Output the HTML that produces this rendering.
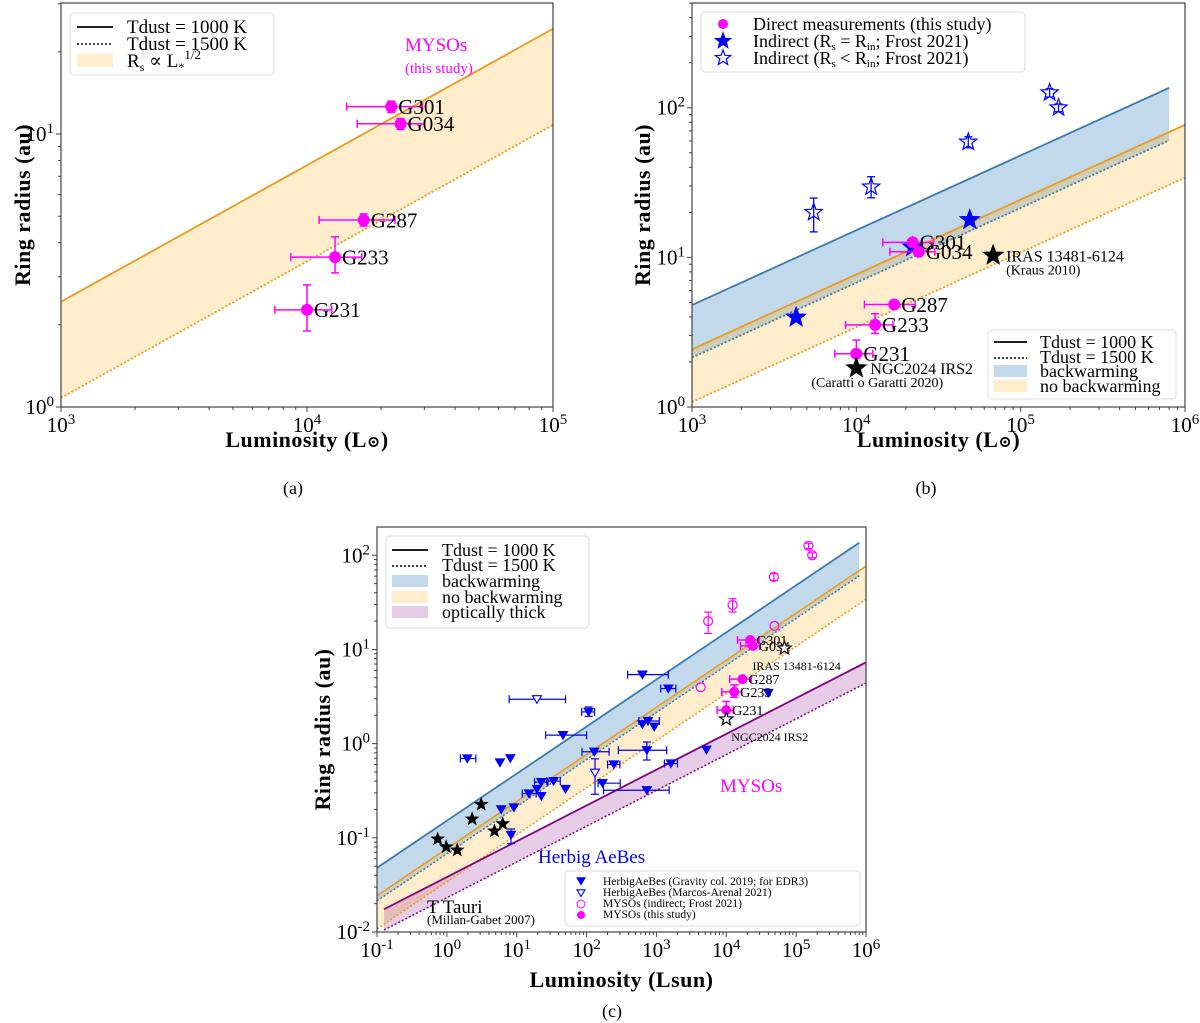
<!DOCTYPE html>
<html><head><meta charset="utf-8"><style>
html,body{margin:0;padding:0;background:#fff;}
svg{display:block;font-family:"Liberation Serif","DejaVu Serif",serif;}
</style></head><body>
<svg id="fig" width="1200" height="1023" viewBox="0 0 1200 1023" xmlns="http://www.w3.org/2000/svg"></svg>
<script>
// ---------- data ----------
const mysoNames=['G301','G034','G287','G233','G231'];
const mysoL=[2.2e4,2.4e4,1.7e4,1.3e4,1.0e4];
const mysoR=[12.6,10.9,4.84,3.54,2.27];
const mysoLlo=[1.45e4,1.6e4,1.12e4,8.6e3,7.4e3];
const mysoLhi=[2.95e4,3.0e4,2.28e4,1.67e4,1.26e4];
const mysoRlo=[12.0,10.4,4.6,3.1,1.9];
const mysoRhi=[13.2,11.4,5.1,4.2,2.8];
const frostFilledL=[4.3e3,4.9e4,2.2e4];
const frostFilledR=[3.97,17.8,11.7];
const frostOpenL=[5.5e3,1.23e4,4.8e4,1.5e5,1.7e5];
const frostOpenR=[20,29.6,59,126,100];
const frostOpenRlo=[14.8,25,54,118,94];
const frostOpenRhi=[24.9,34.6,64,134,106];
const otherNames=['IRAS 13481-6124','NGC2024 IRS2'];
const otherRefs=['(Kraus 2010)','(Caratti o Garatti 2020)'];
const otherL=[6.8e4,1.0e4];
const otherR=[10.3,1.82];
const ttauL=[0.74,0.98,1.41,2.3,3.1,4.8,6.3];
const ttauR=[0.097,0.080,0.074,0.158,0.226,0.118,0.141];
const haeL=[1.96,5.75,8.1,6.0,9.1,8.3,15,22.5,22.5,19.5,33.7,50,46,107,129,169,246,630,630,755,930,730,730,1480,1610,5200,4.0e4];
const haeR=[0.695,0.63,0.70,0.20,0.21,0.107,0.295,0.39,0.277,0.33,0.40,0.33,1.23,2.17,0.82,0.38,0.60,5.4,1.6,1.74,1.51,0.85,0.32,3.84,0.615,0.86,3.45];
const haeLlo=[1.56,null,null,null,null,null,12,18,null,null,27,null,26,85,86,146,200,387,null,560,null,285,175,1150,1300,null,null];
const haeLhi=[2.6,null,null,null,null,null,19,28,null,null,42,null,100,130,210,303,300,1480,null,1100,null,1400,1520,1900,2000,null,null];
const haeRlo=[null,null,null,null,null,0.087,null,null,null,null,null,null,null,1.95,null,null,null,null,null,null,null,0.67,null,null,null,null,null];
const haeRhi=[null,null,null,null,null,0.124,null,null,null,null,null,null,null,2.45,null,null,null,null,null,null,null,1.04,null,null,null,null,null];
const maL=[19.5,132];
const maR=[2.96,0.49];
const maLlo=[7.8,null];
const maLhi=[50,null];
const maRlo=[null,0.29];
const maRhi=[null,0.69];
const bw1000=4.8, bw1500=2.14, nb1000=2.43, nb1500=1.08;
const thickAt1e6=[7.3,4.4], thickSlope=0.38;

const NS='http://www.w3.org/2000/svg';
const fig=document.getElementById('fig');
function el(tag,attrs,parent){const e=document.createElementNS(NS,tag);for(const k in attrs)e.setAttribute(k,attrs[k]);(parent||fig).appendChild(e);return e;}
function lg(v){return Math.log10(v);}

function makePanel(id,c){
  const g=el('g',{});
  
  
  c.g=g;
  c.X=L=>c.x0+(lg(L)-c.lx[0])/(c.lx[1]-c.lx[0])*(c.x1-c.x0);
  c.Y=R=>c.y1-(lg(R)-c.ly[0])/(c.ly[1]-c.ly[0])*(c.y1-c.y0);
  const cp=el('clipPath',{id:'clip'+id},g);
  el('rect',{x:c.x0,y:c.y0,width:c.x1-c.x0,height:c.y1-c.y0},cp);
  c.plot=el('g',{'clip-path':'url(#clip'+id+')'},g);
  return c;
}
function frame(c,id){
  const f=el('rect',{x:c.x0,y:c.y0,width:c.x1-c.x0,height:c.y1-c.y0,fill:'none',stroke:'#444','stroke-width':1.2},c.g);
  
  
  for(let d=Math.floor(c.lx[0]);d<=c.lx[1];d++){
    for(let k=1;k<10;k++){const v=d+lg(k);if(v<c.lx[0]-1e-9||v>c.lx[1]+1e-9)continue;
      const x=c.X(Math.pow(10,v));const len=k==1?5:3;
      el('line',{x1:x,x2:x,y1:c.y1,y2:c.y1+len,stroke:'#444'},c.g);}
    if(d>=c.lx[0]-1e-9){
      const t=el('text',{x:c.X(Math.pow(10,d)),y:c.y1+25,'text-anchor':'middle','font-size':21},c.g);
      
      
      t.innerHTML='10<tspan dy="-8" font-size="15">'+d+'</tspan>';}
  }
  for(let d=Math.floor(c.ly[0]);d<=c.ly[1];d++){
    for(let k=1;k<10;k++){const v=d+lg(k);if(v<c.ly[0]-1e-9||v>c.ly[1]+1e-9)continue;
      const y=c.Y(Math.pow(10,v));const len=k==1?5:3;
      el('line',{x1:c.x0-len,x2:c.x0,y1:y,y2:y,stroke:'#444'},c.g);}
    const t=el('text',{x:c.x0-7,y:c.Y(Math.pow(10,d))+7,'text-anchor':'end','font-size':21},c.g);
    
    
    t.innerHTML='10<tspan dy="-8" font-size="15">'+d+'</tspan>';
  }
}
function axisTitles(c,id,xt,yx,xlabel,fs){
  const xl=el('text',{x:(c.x0+c.x1)/2,y:c.y1+xt,'text-anchor':'middle','font-size':fs,'font-weight':'bold','letter-spacing':'0.5'},c.g);
  
  
  xl.innerHTML=xlabel;
  const yc=(c.y0+c.y1)/2;
  const yl=el('text',{x:yx,y:yc,'text-anchor':'middle','font-size':fs,'font-weight':'bold','letter-spacing':'0.5',transform:'rotate(-90 '+yx+' '+yc+')'},c.g);
  
  
  yl.textContent='Ring radius (au)';
}
function band(c,Ls,Le,fa,fb,fill,op,name){
  const p=[[Ls,fa(Ls)],[Le,fa(Le)],[Le,fb(Le)],[Ls,fb(Ls)]].map(q=>c.X(q[0])+','+c.Y(q[1])).join(' ');
  const b=el('polygon',{points:p,fill:fill,'fill-opacity':op},c.plot);
  
  
}
function line(c,Ls,Le,f,col,dash,name,w){
  const l=el('line',{x1:c.X(Ls),y1:c.Y(f(Ls)),x2:c.X(Le),y2:c.Y(f(Le)),stroke:col,'stroke-width':w||1.8},c.plot);
  if(dash)l.setAttribute('stroke-dasharray',dash);
  
  
}
function sq(a){return L=>a*Math.sqrt(L/1e3);}
function thick(a){return L=>a*Math.pow(L/1e6,thickSlope);}
function starPts(x,y,r){let s=[];for(let i=0;i<10;i++){const rr=i%2?r*0.42:r;const a=-Math.PI/2+i*Math.PI/5;s.push((x+rr*Math.cos(a)).toFixed(1)+','+(y+rr*Math.sin(a)).toFixed(1));}return s.join(' ');}
function star(par,x,y,r,fill,stroke,name){const s=el('polygon',{points:starPts(x,y,r),fill:fill,stroke:stroke,'stroke-width':1.2},par);
  
  return s;}
function errX(c,y,lo,hi,col,w){const a=c.X(lo),b=c.X(hi);el('line',{x1:a,x2:b,y1:y,y2:y,stroke:col,'stroke-width':w},c.plot);el('line',{x1:a,x2:a,y1:y-4,y2:y+4,stroke:col,'stroke-width':w},c.plot);el('line',{x1:b,x2:b,y1:y-4,y2:y+4,stroke:col,'stroke-width':w},c.plot);}
function errY(c,x,lo,hi,col,w){const a=c.Y(lo),b=c.Y(hi);el('line',{x1:x,x2:x,y1:a,y2:b,stroke:col,'stroke-width':w},c.plot);el('line',{x1:x-4,x2:x+4,y1:a,y2:a,stroke:col,'stroke-width':w},c.plot);el('line',{x1:x-4,x2:x+4,y1:b,y2:b,stroke:col,'stroke-width':w},c.plot);}
function mysoPts(c,r,fs,labels){
  for(let i=0;i<mysoL.length;i++){
    const x=c.X(mysoL[i]),y=c.Y(mysoR[i]);
    errX(c,y,mysoLlo[i],mysoLhi[i],'#ff00ff',1.5);
    errY(c,x,mysoRlo[i],mysoRhi[i],'#ff00ff',1.5);
    const p=el('circle',{cx:x,cy:y,r:r,fill:'#ff00ff'},c.plot);
    
    
    if(labels){const t=el('text',{x:x+r+1,y:y+fs*0.35,'font-size':fs},c.plot);
      
      
      t.textContent=mysoNames[i];}
  }
}
function legendBox(c,x,y,w,h,name){const r=el('rect',{x:x,y:y,width:w,height:h,rx:4,fill:'#fff','fill-opacity':0.85,stroke:'#ddd'},c.g);
  
  }
function legText(c,x,y,fs,html,name){const t=el('text',{x:x,y:y,'font-size':fs},c.g);
  
  
  t.innerHTML=html;return t;}

// ---------- panel (a) ----------
const A=makePanel('a',{x0:61,x1:553,y0:3,y1:407,lx:[3,5],ly:[0,1.48]});
band(A,1e3,1e5,sq(nb1000),sq(nb1500),'#ffa500',0.2,'no-backwarming-band');
line(A,1e3,1e5,sq(nb1000),'#ec9a1c',null,'tdust-1000-line');
line(A,1e3,1e5,sq(nb1500),'#ec9a1c','2,2','tdust-1500-line');
mysoPts(A,6,21,true);
frame(A,'a');
axisTitles(A,'a',40,30,'Luminosity (L<tspan font-size="16">⊙</tspan>)',22);
legendBox(A,70,13,204,62,'legend-a');
el('line',{x1:77,x2:113,y1:27,y2:27,stroke:'#000','stroke-width':1.8},A.g);
el('line',{x1:77,x2:113,y1:44,y2:44,stroke:'#000','stroke-width':1.5,'stroke-dasharray':'2,2'},A.g);
el('rect',{x:77,y:54,width:36,height:13,fill:'#ffa500','fill-opacity':0.2},A.g);
legText(A,127,33,19,'Tdust = 1000 K','legend-entry-1000k');
legText(A,127,50,19,'Tdust = 1500 K','legend-entry-1500k');
legText(A,127,67,19,'R<tspan font-size="12" dy="4">s</tspan><tspan dy="-4"> ∝ L</tspan><tspan font-size="12" dy="4">*</tspan><tspan font-size="13" dy="-12">1/2</tspan>','legend-entry-band');
legText(A,405,51,19,'MYSOs','mysos-annotation').setAttribute('fill','#ff00ff');
legText(A,405,73,15,'(this study)','this-study-annotation').setAttribute('fill','#ff00ff');
const capA=legText(A,293,494,18,'(a)','caption-a');capA.setAttribute('text-anchor','middle');

// ---------- panel (b) ----------
const B=makePanel('b',{x0:692,x1:1185,y0:3,y1:407,lx:[3,6],ly:[0,2.70]});
band(B,1e3,8e5,sq(bw1000),sq(bw1500),'#1f77b4',0.28,'backwarming-band');
band(B,1e3,1e6,sq(nb1000),sq(nb1500),'#ffa500',0.2,'no-backwarming-band');
line(B,1e3,8e5,sq(bw1000),'#3a7ab2',null,'backwarming-1000-line');
line(B,1e3,8e5,sq(bw1500),'#3a7ab2','2,2','backwarming-1500-line');
line(B,1e3,1e6,sq(nb1000),'#ec9a1c',null,'nobw-1000-line');
line(B,1e3,1e6,sq(nb1500),'#ec9a1c','2,2','nobw-1500-line');
for(let i=0;i<frostOpenL.length;i++){const x=B.X(frostOpenL[i]);errY(B,x,frostOpenRlo[i],frostOpenRhi[i],'#0000ff',1.3);
  star(B.plot,x,B.Y(frostOpenR[i]),9,'none','#0000ff','frost-indirect-open-star');}
for(let i=0;i<frostFilledL.length;i++)star(B.plot,B.X(frostFilledL[i]),B.Y(frostFilledR[i]),10,'#0000ff','#0000ff','frost-indirect-filled-star');
mysoPts(B,6,21,true);
for(let i=0;i<otherL.length;i++){const x=B.X(otherL[i]),y=B.Y(otherR[i]);star(B.plot,x,y,10,'#000','#000','other-star');
  const t=el('text',{x:i==0?x+13:x+14,y:y+6,'font-size':16},B.plot);
  
  
  t.textContent=otherNames[i];
  const t2=el('text',{x:i==0?x+13:x-45,y:y+19,'font-size':14},B.plot);
  
  
  t2.textContent=otherRefs[i];}
frame(B,'b');
axisTitles(B,'b',40,650,'Luminosity (L<tspan font-size="16">⊙</tspan>)',22);
legendBox(B,701,12,324,60,'legend-b-top');
el('circle',{cx:723,cy:24,r:5,fill:'#ff00ff'},B.g);
star(B.g,723,41,8,'#0000ff','#0000ff','legend-filled-star');
star(B.g,723,58,8,'none','#0000ff','legend-open-star');
legText(B,753,30,18,'Direct measurements (this study)','legend-entry-direct');
legText(B,753,47,18,'Indirect (R<tspan font-size="11" dy="3">s</tspan><tspan dy="-3"> = R</tspan><tspan font-size="11" dy="3">in</tspan><tspan dy="-3">; Frost 2021)</tspan>','legend-entry-indirect-eq');
legText(B,753,64,18,'Indirect (R<tspan font-size="11" dy="3">s</tspan><tspan dy="-3"> &lt; R</tspan><tspan font-size="11" dy="3">in</tspan><tspan dy="-3">; Frost 2021)</tspan>','legend-entry-indirect-lt');
legendBox(B,988,330,188,69,'legend-b-bottom');
el('line',{x1:994,x2:1027,y1:342,y2:342,stroke:'#000','stroke-width':1.8},B.g);
el('line',{x1:994,x2:1027,y1:358,y2:358,stroke:'#000','stroke-width':1.5,'stroke-dasharray':'2,2'},B.g);
el('rect',{x:994,y:365,width:33,height:12,fill:'#1f77b4','fill-opacity':0.28},B.g);
el('rect',{x:994,y:380,width:33,height:12,fill:'#ffa500','fill-opacity':0.2},B.g);
legText(B,1040,348,18,'Tdust = 1000 K','legend-entry-1000k');
legText(B,1040,363,18,'Tdust = 1500 K','legend-entry-1500k');
legText(B,1040,377,18,'backwarming','legend-entry-backwarming');
legText(B,1040,392,18,'no backwarming','legend-entry-no-backwarming');
const capB=legText(B,926,494,18,'(b)','caption-b');capB.setAttribute('text-anchor','middle');

// ---------- panel (c) ----------
const C=makePanel('c',{x0:377,x1:866,y0:527,y1:932,lx:[-1,6],ly:[-2,2.30]});
band(C,0.1,8e5,sq(bw1000),sq(bw1500),'#1f77b4',0.28,'backwarming-band');
band(C,0.1,1e6,sq(nb1000),sq(nb1500),'#ffa500',0.2,'no-backwarming-band');
band(C,0.126,1e6,thick(thickAt1e6[0]),thick(thickAt1e6[1]),'#800080',0.2,'optically-thick-band');
line(C,0.1,8e5,sq(bw1000),'#3a7ab2',null,'backwarming-1000-line');
line(C,0.1,8e5,sq(bw1500),'#3a7ab2','2,2','backwarming-1500-line',1.5);
line(C,0.1,1e6,sq(nb1000),'#ec9a1c',null,'nobw-1000-line',1.5);
line(C,0.1,1e6,sq(nb1500),'#ec9a1c','2,2','nobw-1500-line',1.5);
line(C,0.126,1e6,thick(thickAt1e6[0]),'#800080',null,'thick-1000-line');
line(C,0.126,1e6,thick(thickAt1e6[1]),'#800080','2,2','thick-1500-line',1.5);
function tri(par,x,y,s,fill,name){const t=el('polygon',{points:(x-s)+','+(y-s*0.8)+' '+(x+s)+','+(y-s*0.8)+' '+x+','+(y+s*0.9),fill:fill,stroke:'#0000ff','stroke-width':1.1},par);
  
  }
for(let i=0;i<haeL.length;i++){const x=C.X(haeL[i]),y=C.Y(haeR[i]);
  if(haeLlo[i]!==null)errX(C,y,haeLlo[i],haeLhi[i],'#0000ff',1.2);
  if(haeRlo[i]!==null)errY(C,x,haeRlo[i],haeRhi[i],'#0000ff',1.2);
  tri(C.plot,x,y,4.5,'#0000ff','herbig-gravity-point');}
for(let i=0;i<maL.length;i++){const x=C.X(maL[i]),y=C.Y(maR[i]);
  if(maLlo[i]!==null)errX(C,y,maLlo[i],maLhi[i],'#0000ff',1.2);
  if(maRlo[i]!==null)errY(C,x,maRlo[i],maRhi[i],'#0000ff',1.2);
  tri(C.plot,x,y,4.5,'#fff','herbig-marcos-point');}
for(let i=0;i<ttauL.length;i++)star(C.plot,C.X(ttauL[i]),C.Y(ttauR[i]),6,'#000','#000','ttauri-star');
const frL=frostFilledL.concat(frostOpenL), frR=frostFilledR.concat(frostOpenR);
for(let i=0;i<frostOpenL.length;i++)errY(C,C.X(frostOpenL[i]),frostOpenRlo[i],frostOpenRhi[i],'#ff00ff',1.2);
for(let i=0;i<frL.length;i++){const p=el('circle',{cx:C.X(frL[i]),cy:C.Y(frR[i]),r:4.5,fill:'none',stroke:'#ff00ff','stroke-width':1.2},C.plot);
  
  }
mysoPts(C,5,14,true);
for(let i=0;i<otherL.length;i++){const x=C.X(otherL[i]),y=C.Y(otherR[i]);star(C.plot,x,y,7,'#fff','#000','other-open-star');
  const t=el('text',{x:i==0?x-32:x+5,y:y+22,'font-size':12},C.plot);
  
  
  t.textContent=otherNames[i];}
frame(C,'c');
axisTitles(C,'c',55,330,'Luminosity (Lsun)',22);
legText(C,720,792,19,'MYSOs','mysos-annotation').setAttribute('fill','#ff00ff');
legText(C,538,863,19,'Herbig AeBes','herbig-annotation').setAttribute('fill','#0000ff');
legText(C,427,913,19,'T Tauri','ttauri-annotation');
legText(C,427,924,13,'(Millan-Gabet 2007)','ttauri-ref');
legendBox(C,386,536,203,92,'legend-c-top');
el('line',{x1:392,x2:428,y1:550,y2:550,stroke:'#000','stroke-width':1.8},C.g);
el('line',{x1:392,x2:428,y1:566,y2:566,stroke:'#000','stroke-width':1.5,'stroke-dasharray':'2,2'},C.g);
el('rect',{x:392,y:575,width:36,height:12,fill:'#1f77b4','fill-opacity':0.28},C.g);
el('rect',{x:392,y:591,width:36,height:12,fill:'#ffa500','fill-opacity':0.2},C.g);
el('rect',{x:392,y:606,width:36,height:12,fill:'#800080','fill-opacity':0.2},C.g);
legText(C,442,556,18,'Tdust = 1000 K','legend-entry-1000k');
legText(C,442,571,18,'Tdust = 1500 K','legend-entry-1500k');
legText(C,442,587,18,'backwarming','legend-entry-backwarming');
legText(C,442,603,18,'no backwarming','legend-entry-no-backwarming');
legText(C,442,618,18,'optically thick','legend-entry-optically-thick');
legendBox(C,565,871,295,55,'legend-c-bottom');
tri(C.g,581,881,4,'#0000ff','legend-marker-gravity');
tri(C.g,581,893,4,'#fff','legend-marker-marcos');
el('circle',{cx:581,cy:904,r:4,fill:'none',stroke:'#ff00ff'},C.g);
el('circle',{cx:581,cy:915,r:4,fill:'#ff00ff'},C.g);
legText(C,603,885,11.5,'HerbigAeBes (Gravity col. 2019; for EDR3)','legend-entry-gravity');
legText(C,603,896,11.5,'HerbigAeBes (Marcos-Arenal 2021)','legend-entry-marcos');
legText(C,603,907,11.5,'MYSOs (indirect; Frost 2021)','legend-entry-myso-indirect');
legText(C,603,918,11.5,'MYSOs (this study)','legend-entry-myso-direct');
const capC=legText(C,612,1017,18,'(c)','caption-c');capC.setAttribute('text-anchor','middle');
</script>
</body></html>
